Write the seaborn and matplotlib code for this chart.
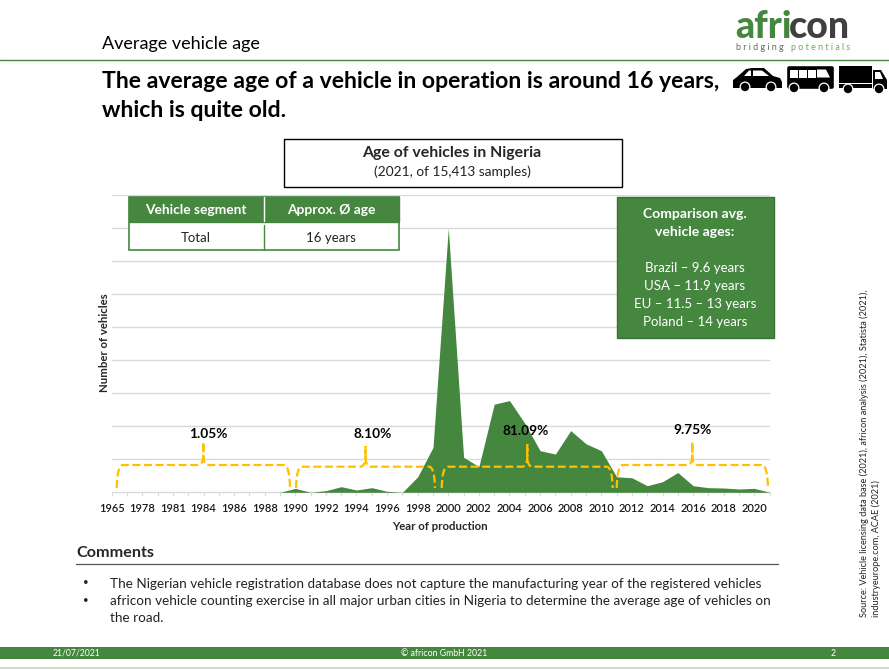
"""
Average vehicle age slide - age of vehicles in Nigeria
"""

import matplotlib
matplotlib.use("Agg")
import matplotlib.pyplot as plt
from matplotlib.patches import Rectangle, Polygon, Circle, FancyBboxPatch, PathPatch
from matplotlib.path import Path
import pandas as pd
import seaborn as sns

GREEN = '#45873F'
GOLD = '#FFC000'

# x axis categories, only every second one is labelled in the chart
years = [1965, 1977, 1978, 1980, 1981, 1983, 1984, 1985, 1986, 1987, 1988, 1989,
         1990, 1991, 1992, 1993, 1994, 1995, 1996, 1997, 1998, 1999, 2000, 2001,
         2002, 2003, 2004, 2005, 2006, 2007, 2008, 2009, 2010, 2011, 2012, 2013,
         2014, 2015, 2016, 2017, 2018, 2019, 2020, 2021]

# height read against the unlabelled gridlines (1 = one gridline step)
vehicles = [0, 0, 0, 0, 0, 0, 0, 0, 0, 0, 0, 0,
            0.12, 0, 0.05, 0.17, 0.07, 0.14, 0.03, 0, 0.47, 1.36, 8.0, 1.06,
            0.78, 2.67, 2.78, 2.09, 1.26, 1.16, 1.87, 1.47, 1.26, 0.47, 0.44, 0.2,
            0.32, 0.6, 0.2, 0.14, 0.13, 0.1, 0.12, 0]

share_labels = ['1.05%', '8.10%', '81.09%', '9.75%']

comparison_lines = ['Brazil – 9.6 years', 'USA – 11.9 years',
                    'EU – 11.5 – 13 years', 'Poland – 14 years']

comments = ['The Nigerian vehicle registration database does not capture the manufacturing year of the registered vehicles',
            'africon vehicle counting exercise in all major urban cities in Nigeria to determine the average age of vehicles on',
            'the road.']

W, H = 889, 670

sns.set_style('white')
plt.rcParams['font.family'] = ['Lato', 'DejaVu Sans']


"""
Area chart with the gridlines and year labels
"""
def draw_chart(fig):
    left, right, top, bottom = 111.7, 769.6, 195.3, 492.3
    ax = fig.add_axes([left / W, 1 - bottom / H, (right - left) / W, (bottom - top) / H])

    df = pd.DataFrame({'pos': range(len(years)), 'vehicles': vehicles})
    sns.lineplot(data=df, x='pos', y='vehicles', color=GREEN, linewidth=0, ax=ax)
    ax.fill_between(df['pos'], df['vehicles'], color=GREEN, linewidth=0, zorder=3)

    ax.set_xlim(0, len(years) - 1)
    ax.set_ylim(0, 9)
    ax.set_yticks(range(1, 10))
    ax.set_yticklabels([])
    ax.grid(axis='y', color='#D9D9D9', linewidth=1)
    ax.set_axisbelow(True)
    ax.set_xlabel('')
    ax.set_ylabel('')

    ax.set_xticks(df['pos'])
    ax.set_xticklabels([str(y) if i % 2 == 0 else '' for i, y in enumerate(years)],
                       fontsize=8, fontweight='semibold', color='#1a1a1a')
    ax.tick_params(axis='x', length=3, width=0.8, color='#D9D9D9', pad=5, bottom=True)
    ax.tick_params(axis='y', length=0)

    sns.despine(ax=ax, left=True, top=True, right=True)
    ax.spines['bottom'].set_color('#D9D9D9')
    ax.spines['bottom'].set_linewidth(1)


"""
Dashed curly bracket, x0/x1 ends, xm tip, in slide pixels
"""
def bracket(ov, x0, x1, xm, y_top, y_tip, y_end=488):
    r = 6
    verts = [(x0, y_end), (x0 + 0.5, y_top), (x0 + r, y_top),
             (xm - 5, y_top),
             (xm - 0.5, y_top), (xm, y_top - 9),
             (xm, y_tip),
             (xm, y_top - 9),
             (xm + 0.5, y_top), (xm + 5, y_top),
             (x1 - r, y_top),
             (x1 - 0.5, y_top), (x1, y_end)]
    codes = [Path.MOVETO, Path.CURVE3, Path.CURVE3,
             Path.LINETO,
             Path.CURVE3, Path.CURVE3,
             Path.LINETO,
             Path.LINETO,
             Path.CURVE3, Path.CURVE3,
             Path.LINETO,
             Path.CURVE3, Path.CURVE3]
    ov.add_patch(PathPatch(Path(verts, codes), facecolor='none', edgecolor=GOLD, linewidth=1.6,
                           linestyle=(0, (3.6, 1.6)), zorder=5))


def draw_car(ov):
    body = [(733, 88), (733, 80), (737, 77), (746, 69), (752, 68), (764, 68), (773, 76),
            (780, 78), (782, 82), (782, 88)]
    ov.add_patch(Polygon(body, closed=True, color='black', linewidth=0, zorder=5))
    ov.add_patch(Polygon([(744, 76), (749, 70.5), (751, 70.5), (751, 76)], color='white', linewidth=0, zorder=6))
    ov.add_patch(Polygon([(753, 70.5), (762, 70.5), (769, 76), (753, 76)], color='white', linewidth=0, zorder=6))
    for cx in (745, 771):
        ov.add_patch(Circle((cx, 87), 5.5, color='white', linewidth=0, zorder=6))
        ov.add_patch(Circle((cx, 87), 4.2, color='black', linewidth=0, zorder=7))


def draw_bus(ov):
    ov.add_patch(FancyBboxPatch((788, 67), 45, 21, boxstyle='round,pad=0.8,rounding_size=2',
                                color='black', linewidth=0, zorder=5))
    for wx in (790, 799, 808):
        ov.add_patch(Rectangle((wx, 69.5), 7.5, 8, color='white', linewidth=0, zorder=6))
    ov.add_patch(Polygon([(817, 69.5), (826, 69.5), (830, 77.5), (817, 77.5)], color='white', linewidth=0, zorder=6))
    for cx in (794, 824):
        ov.add_patch(Circle((cx, 88), 5.5, color='white', linewidth=0, zorder=6))
        ov.add_patch(Circle((cx, 88), 4.2, color='black', linewidth=0, zorder=7))


def draw_truck(ov):
    ov.add_patch(Rectangle((839, 66), 33, 22, color='black', linewidth=0, zorder=5))
    ov.add_patch(Polygon([(873, 70), (881, 70), (887, 80), (887, 89), (873, 89)], color='black', linewidth=0, zorder=5))
    ov.add_patch(Polygon([(875, 72), (880, 72), (883, 79), (875, 79)], color='white', linewidth=0, zorder=6))
    ov.add_patch(Rectangle((839, 83), 33, 1.2, color='white', linewidth=0, zorder=6))
    for cx in (848, 879):
        ov.add_patch(Circle((cx, 89), 5.5, color='white', linewidth=0, zorder=6))
        ov.add_patch(Circle((cx, 89), 4.2, color='black', linewidth=0, zorder=7))


"""
Everything around the chart, drawn on a full-slide axes in pixels
"""
def draw_slide(fig):
    ov = fig.add_axes([0, 0, 1, 1], facecolor='none')
    ov.set_xlim(0, W)
    ov.set_ylim(H, 0)
    ov.axis('off')

    # header
    ov.text(102, 44, 'Average vehicle age', fontsize=13, va='center', color='black')
    ov.plot([0, W], [60, 60], color=GREEN, linewidth=1)
    ov.text(735, 27.5, 'afri', fontsize=27, fontweight='black', color=GREEN, va='center')
    ov.text(789, 27.5, 'con', fontsize=27, fontweight='black', color='#404040', va='center')
    ov.text(736, 47.5, 'b r i d g i n g', fontsize=6.5, color='#666666', va='center')
    ov.text(791, 47.5, 'p o t e n t i a l s', fontsize=6.5, color='#6FA85F', va='center')

    ov.text(102, 81.5, 'The average age of a vehicle in operation is around 16 years,',
            fontsize=16.6, fontweight='bold', va='center', color='black')
    ov.text(102, 110.5, 'which is quite old.', fontsize=16.6, fontweight='bold', va='center', color='black')
    draw_car(ov)
    draw_bus(ov)
    draw_truck(ov)

    # chart title box
    ov.add_patch(Rectangle((284, 138.5), 338, 48, facecolor='white', edgecolor='black', linewidth=1))
    ov.text(452, 153, 'Age of vehicles in Nigeria', fontsize=11.4, fontweight='bold', ha='center', va='center')
    ov.text(452, 172, '(2021, of 15,413 samples)', fontsize=9.9, ha='center', va='center', color='#222222')

    # segment table
    ov.add_patch(Rectangle((128.5, 196.5), 270, 53, facecolor='white', edgecolor=GREEN, linewidth=1.2, zorder=4))
    ov.add_patch(Rectangle((128.5, 196.5), 270, 25, facecolor=GREEN, edgecolor=GREEN, zorder=4))
    ov.plot([263.5, 263.5], [196.5, 221], color='white', linewidth=1, zorder=5)
    ov.plot([263.5, 263.5], [225, 249.5], color=GREEN, linewidth=1, zorder=5)
    ov.text(196, 210.5, 'Vehicle segment', color='white', fontsize=9.9, fontweight='bold', ha='center', va='center', zorder=6)
    ov.text(331, 210.5, 'Approx. Ø age', color='white', fontsize=9.9, fontweight='bold', ha='center', va='center', zorder=6)
    ov.text(196, 237.5, 'Total', fontsize=9.5, ha='center', va='center', color='#222222', zorder=6)
    ov.text(331, 237.5, '16 years', fontsize=9.5, ha='center', va='center', color='#222222', zorder=6)

    # comparison box
    ov.add_patch(Rectangle((616.5, 196.5), 157, 141, facecolor=GREEN, edgecolor='#3A7034', linewidth=1, zorder=4))
    ov.text(695, 214.5, 'Comparison avg.', color='white', fontsize=10.1, fontweight='bold', ha='center', va='center', zorder=6)
    ov.text(695, 232.5, 'vehicle ages:', color='white', fontsize=10.1, fontweight='bold', ha='center', va='center', zorder=6)
    for y, line in zip((267.5, 285.5, 303.5, 321.5), comparison_lines):
        ov.text(695, y, line, color='white', fontsize=9.5, ha='center', va='center', zorder=6)

    # brackets and shares
    bracket(ov, 116.7, 290, 203.3, 465, 442)
    bracket(ov, 296, 435, 365.5, 466.7, 446)
    bracket(ov, 441.7, 612.7, 527.3, 466.7, 444)
    bracket(ov, 616.7, 768, 692.3, 465, 442)
    for x, y, label in zip((208, 373, 526, 692), (433.5, 433.5, 431, 430), share_labels):
        ov.text(x, y, label, fontsize=9.8, fontweight='bold', ha='center', va='center', color='black', zorder=6)

    # axis titles
    ov.text(104.5, 343, 'Number of vehicles', fontsize=8.2, fontweight='bold', rotation=90, ha='center', va='center')
    ov.text(440, 527, 'Year of production', fontsize=8.2, fontweight='bold', ha='center', va='center')

    # comments
    ov.text(76, 553, 'Comments', fontsize=11.6, fontweight='bold', va='center')
    ov.plot([76, 778], [564, 564], color='#555555', linewidth=0.9)
    ov.text(83, 583, '•', fontsize=7, va='center', color='#222222')
    ov.text(83, 600, '•', fontsize=7, va='center', color='#222222')
    for y, line in zip((583.5, 601, 618), comments):
        ov.text(110, y, line, fontsize=9.7, va='center', color='#222222')

    # source
    ov.text(864, 617, 'Source: Vehicle licensing data base (2021), africon analysis (2021), Statista (2021),',
            fontsize=6.6, rotation=90, ha='center', va='bottom', color='#222222')
    ov.text(876, 617, 'industryeurope.com, ACAE (2021)',
            fontsize=6.6, rotation=90, ha='center', va='bottom', color='#222222')

    # footer
    ov.add_patch(Rectangle((0, 647), W, 12, facecolor=GREEN, edgecolor='none'))
    ov.plot([0, W], [668, 668], color='#CFCFCF', linewidth=1.2)
    ov.text(76, 653, '21/07/2021', color='white', fontsize=6.2, ha='center', va='center')
    ov.text(444, 653, '© africon GmbH 2021', color='white', fontsize=6.3, ha='center', va='center')
    ov.text(833, 653, '2', color='white', fontsize=6.2, ha='center', va='center')


def main():
    fig = plt.figure(figsize=(W / 100, H / 100), dpi=100, facecolor='white')
    draw_chart(fig)
    draw_slide(fig)
    fig.savefig('out.png', dpi=100, facecolor='white')
    plt.close(fig)


if __name__ == "__main__":
    main()
